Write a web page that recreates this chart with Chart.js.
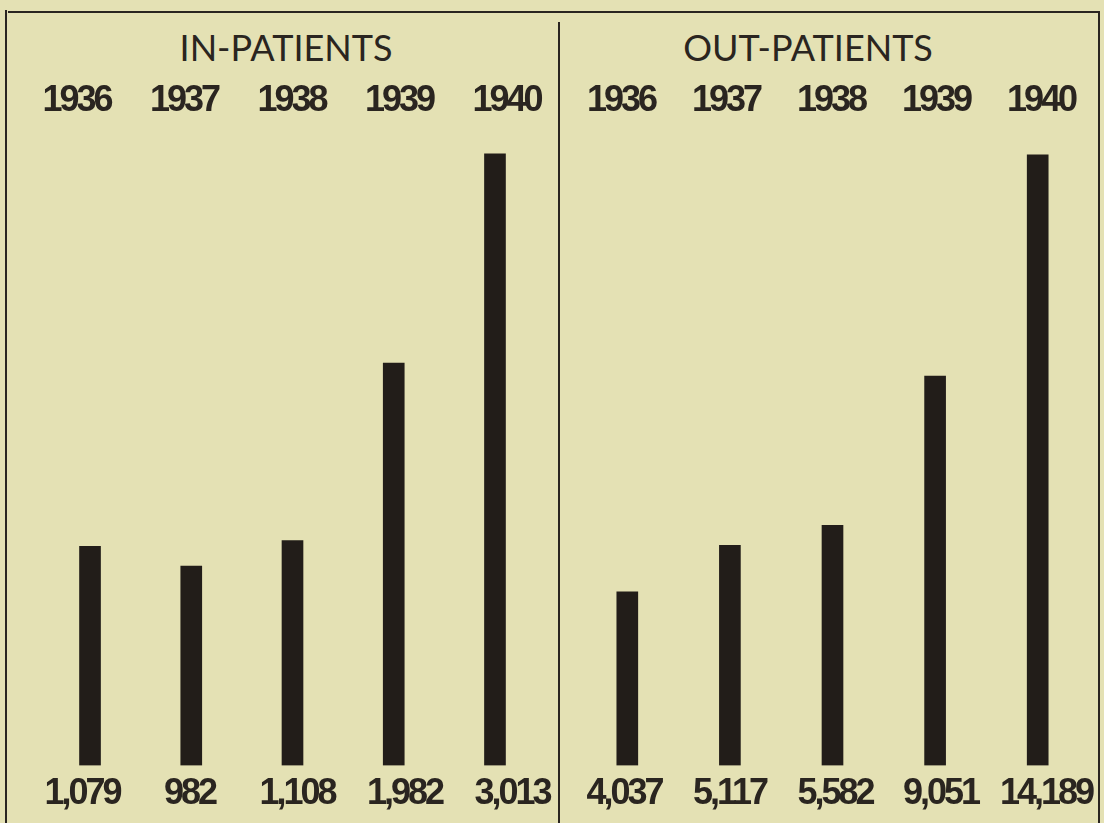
<!DOCTYPE html>
<html>
<head>
<meta charset="utf-8">
<script src="https://cdn.jsdelivr.net/npm/chart.js@4"></script>
<style>
  html, body { margin: 0; padding: 0; }
  body { width: 1104px; height: 823px; background: #e4e1b4; position: relative; overflow: hidden; }
  .line { position: absolute; background: #2a2520; }
  .title { position: absolute; font-family: Lato, "Open Sans", sans-serif; font-size: 36px; line-height: 36px; color: #2a2520; white-space: nowrap; text-align: center; width: 400px; }
  canvas { position: absolute; }
</style>
</head>
<body>
<div class="line" style="left:8px; top:11px; width:1092px; height:2px;"></div>
<div class="line" style="left:5px; top:10px; width:2px; height:813px;"></div>
<div class="line" style="left:558px; top:22px; width:2px; height:801px;"></div>
<div class="line" style="left:1098px; top:11px; width:2px; height:812px;"></div>
<div class="title" id="tIn" style="left:86px; top:29px;"></div>
<div class="title" id="tOut" style="left:608px; top:29px;"></div>
<div style="position:absolute; left:6px; top:0; width:553px; height:823px;"><canvas id="cIn"></canvas></div>
<div style="position:absolute; left:559px; top:0; width:545px; height:823px;"><canvas id="cOut"></canvas></div>
<script>
const years = ["1936", "1937", "1938", "1939", "1940"];
const inPatients = [1079, 982, 1108, 1982, 3013];
const outPatients = [4037, 5117, 5582, 9051, 14189];
const inTitle = "IN-PATIENTS";
const outTitle = "OUT-PATIENTS";
const inMax = 3152;
const outMax = 14868;

document.getElementById('tIn').textContent = inTitle;
document.getElementById('tOut').textContent = outTitle;

const ink = '#2a2520';
const barInk = '#221d19';
const numFont = { family: '"Liberation Sans", Arial, sans-serif', size: 36, weight: 'bold', lineHeight: 1.2 };
const fmt = v => v.toLocaleString('en-US');

const narrowText = {
  id: 'narrowText',
  beforeLayout(chart) { chart.ctx.letterSpacing = '-3px'; },
  beforeDraw(chart) { chart.ctx.letterSpacing = '-3px'; }
};

// label axis: one tick per category, labelled from the given array
function labelAxis(position, labels, range, padding) {
  return {
    type: 'linear',
    position: position,
    offset: false,
    bounds: 'data',
    min: range[0],
    max: range[1],
    afterBuildTicks: scale => {
      scale.min = range[0];
      scale.max = range[1];
      scale.ticks = labels.map((_, i) => ({ value: i }));
    },
    grid: { display: false, drawTicks: false, offset: false },
    border: { display: false },
    ticks: {
      color: ink, font: numFont, padding: padding, maxRotation: 0, autoSkip: false,
      callback: v => labels[v]
    }
  };
}

function makeChart(id, values, yMax, padLeft, padRight, yearRange, valueRange) {
  const canvas = document.getElementById(id);
  const parent = canvas.parentElement;
  canvas.width = parent.clientWidth;
  canvas.height = parent.clientHeight;
  canvas.style.width = parent.clientWidth + 'px';
  canvas.style.height = parent.clientHeight + 'px';
  return new Chart(canvas, {
    type: 'bar',
    data: {
      labels: years,
      datasets: [{ data: values, backgroundColor: barInk, borderWidth: 0, barThickness: 21 }]
    },
    plugins: [narrowText],
    options: {
      responsive: false,
      animation: false,
      devicePixelRatio: 1,
      layout: { padding: { left: padLeft, right: padRight, top: 76.5, bottom: 0.4 } },
      plugins: { legend: { display: false }, tooltip: { enabled: false }, title: { display: false } },
      scales: {
        x: { display: false, offset: true },
        xt: labelAxis('top', years, yearRange, 3),
        xb: labelAxis('bottom', values.map(fmt), valueRange, 7),
        y: { display: false, min: 0, max: yMax }
      }
    }
  });
}

makeChart('cIn', inPatients, inMax, 33.4, 13.4, [-0.345, 4.364], [-0.396, 4.313]);
makeChart('cOut', outPatients, outMax, 17, 15, [-0.429, 4.457], [-0.455, 4.408]);
</script>
</body>
</html>
